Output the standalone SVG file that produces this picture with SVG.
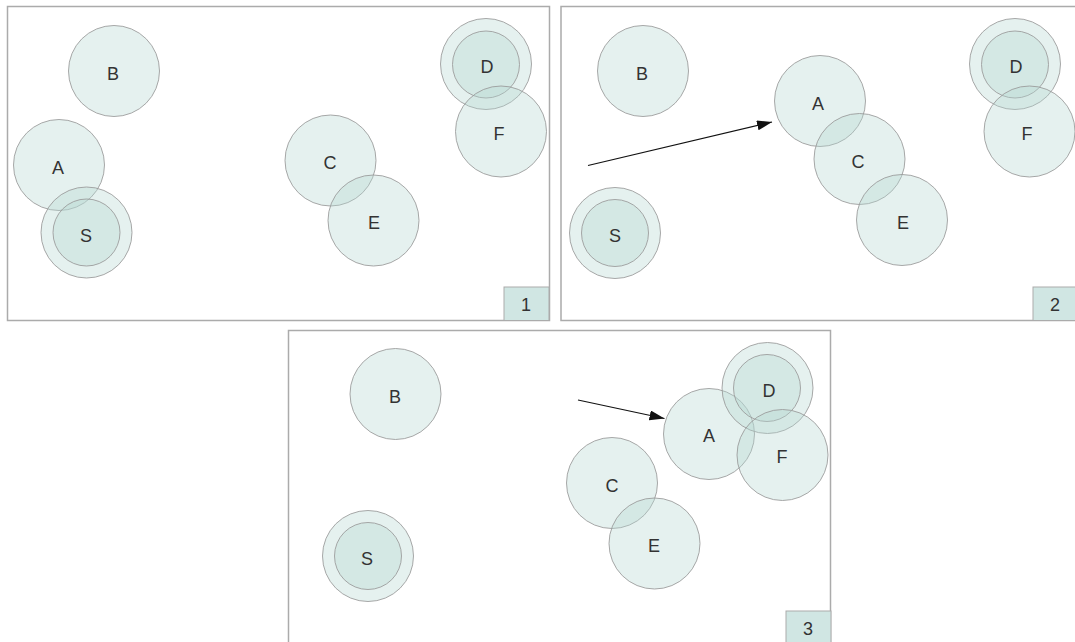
<svg xmlns="http://www.w3.org/2000/svg" width="1075" height="642" viewBox="0 0 1075 642">
<style>
.frame{fill:#ffffff;stroke:#ababab;stroke-width:1.5}
.n{fill:#b4d7d2;fill-opacity:0.35;stroke:#999999;stroke-opacity:0.85;stroke-width:1}
.lbl{font-family:"Liberation Sans",Arial,sans-serif;font-size:18px;fill:#333333;text-anchor:middle}
.badge{fill:#d0e6e3;stroke:#ababab;stroke-width:1}
.edge{stroke:#111111;stroke-width:1.1;fill:none;marker-end:url(#ah)}
</style>
<defs>
<marker id="ah" markerUnits="userSpaceOnUse" markerWidth="16" markerHeight="12" refX="15" refY="5" orient="auto">
<path d="M0,0 L15,5 L0,10 z" fill="#111111"/>
</marker>
</defs>
<rect width="1075" height="642" fill="#ffffff"/>
<g id="panel1">
<rect class="frame" x="7.5" y="6.5" width="542" height="314"/>
<g id="p1-B"><circle class="n" cx="114" cy="71" r="45.5"/><text class="lbl" x="113" y="80">B</text></g>
<g id="p1-A"><circle class="n" cx="59" cy="165" r="45.5"/><text class="lbl" x="58" y="174">A</text></g>
<g id="p1-S"><circle class="n" cx="86.5" cy="232.5" r="45.5"/><circle class="n" cx="86.5" cy="232.5" r="33.5"/><text class="lbl" x="86" y="242">S</text></g>
<g id="p1-C"><circle class="n" cx="330.5" cy="160.5" r="45.5"/><text class="lbl" x="330" y="169">C</text></g>
<g id="p1-E"><circle class="n" cx="373.5" cy="220.5" r="45.5"/><text class="lbl" x="374" y="229">E</text></g>
<g id="p1-D"><circle class="n" cx="486" cy="64" r="45.5"/><circle class="n" cx="486" cy="64.5" r="33.5"/><text class="lbl" x="487" y="73">D</text></g>
<g id="p1-F"><circle class="n" cx="501" cy="131.5" r="45.5"/><text class="lbl" x="499" y="140">F</text></g>
<g id="p1-badge"><rect class="badge" x="504" y="287" width="45" height="33.5"/><text class="lbl" x="526" y="311">1</text></g>
</g>
<g id="panel2">
<rect class="frame" x="561" y="6.5" width="542" height="314"/>
<g id="p2-B"><circle class="n" cx="643" cy="71" r="45.5"/><text class="lbl" x="642" y="80">B</text></g>
<g id="p2-A"><circle class="n" cx="820" cy="101" r="45.5"/><text class="lbl" x="818" y="110">A</text></g>
<g id="p2-C"><circle class="n" cx="859.5" cy="159" r="45.5"/><text class="lbl" x="858" y="168">C</text></g>
<g id="p2-E"><circle class="n" cx="902" cy="220" r="45.5"/><text class="lbl" x="903" y="229">E</text></g>
<g id="p2-S"><circle class="n" cx="615" cy="233" r="45.5"/><circle class="n" cx="615" cy="233" r="33.5"/><text class="lbl" x="615" y="242">S</text></g>
<g id="p2-D"><circle class="n" cx="1015" cy="64" r="45.5"/><circle class="n" cx="1015" cy="64.5" r="33.5"/><text class="lbl" x="1016" y="73">D</text></g>
<g id="p2-F"><circle class="n" cx="1029.5" cy="131.5" r="45.5"/><text class="lbl" x="1027" y="140">F</text></g>
<g id="p2-badge"><rect class="badge" x="1033" y="287" width="45" height="33.5"/><text class="lbl" x="1055" y="311">2</text></g>
</g>
<g id="panel3">
<rect class="frame" x="288.5" y="330.5" width="542" height="314"/>
<g id="p3-B"><circle class="n" cx="395.5" cy="394" r="45.5"/><text class="lbl" x="395" y="403">B</text></g>
<g id="p3-S"><circle class="n" cx="368" cy="556" r="45.5"/><circle class="n" cx="368" cy="556" r="33.5"/><text class="lbl" x="367" y="565">S</text></g>
<g id="p3-C"><circle class="n" cx="612" cy="483" r="45.5"/><text class="lbl" x="612" y="492">C</text></g>
<g id="p3-E"><circle class="n" cx="654.5" cy="543.5" r="45.5"/><text class="lbl" x="654" y="552">E</text></g>
<g id="p3-A"><circle class="n" cx="709" cy="434" r="45.5"/><text class="lbl" x="709" y="442">A</text></g>
<g id="p3-D"><circle class="n" cx="767.5" cy="388" r="45.5"/><circle class="n" cx="767" cy="388" r="33.5"/><text class="lbl" x="769" y="397">D</text></g>
<g id="p3-F"><circle class="n" cx="782.5" cy="455" r="45.5"/><text class="lbl" x="782" y="463">F</text></g>
<g id="p3-badge"><rect class="badge" x="786" y="611" width="45" height="33.5"/><text class="lbl" x="808" y="635">3</text></g>
</g>
<g id="connectors">
<line class="edge" x1="588" y1="165.5" x2="772" y2="122"/>
<line class="edge" x1="578" y1="400" x2="664.5" y2="418.5"/>
</g>
</svg>
